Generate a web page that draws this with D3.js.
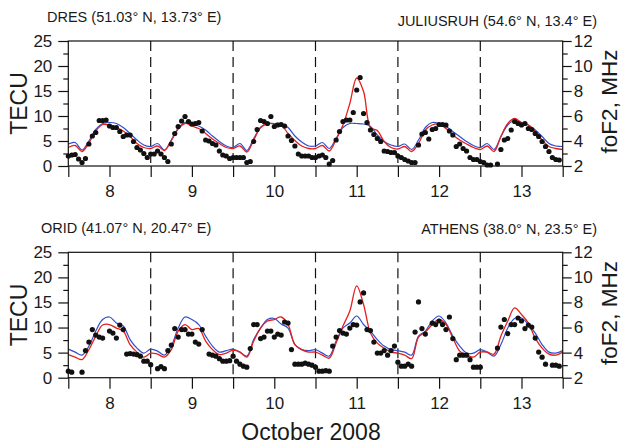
<!DOCTYPE html>
<html>
<head>
<meta charset="utf-8">
<script src="https://cdn.jsdelivr.net/npm/d3@7/dist/d3.min.js"></script>
<style>
  body { margin: 0; background: #fff; }
  svg text { font-family: 'Liberation Sans', Arial, Helvetica, sans-serif; fill: #1a1a1a; }
</style>
</head>
<body>
<div id="chart"></div>
<script>
'use strict';

// model curves are sampled every 2 h, observations every 1 h, both from day 7.5
var startDay = 7.5;
var modelStep = 2 / 24;
var obsStep = 1 / 24;

var dayTicks = [8, 9, 10, 11, 12, 13];
var dayBounds = [8.5, 9.5, 10.5, 11.5, 12.5];
var tecTicks = [0, 5, 10, 15, 20, 25];
var tecMinor = [2.5, 7.5, 12.5, 17.5, 22.5];
var foF2Ticks = [2, 4, 6, 8, 10, 12];
var foF2Minor = [3, 5, 7, 9, 11];

// DRES / JULIUSRUH, TECU
var dresBlue = [
  4.4, 4.7, 3.2, 5.0, 7.3, 8.5, 8.7, 8.5, 7.7, 6.5, 5.2, 4.2,
  3.9, 4.5, 3.2, 5.2, 7.5, 8.7, 8.4, 8.0, 7.2, 6.0, 4.9, 4.0,
  3.7, 4.5, 3.1, 5.5, 7.7, 8.5, 8.5, 8.5, 7.7, 6.0, 4.8, 4.0,
  4.0, 4.7, 3.5, 5.5, 7.7, 8.5, 8.5, 8.4, 7.9, 6.2, 4.9, 4.2,
  3.9, 4.4, 3.3, 5.2, 7.7, 8.7, 8.5, 7.9, 6.9, 5.9, 4.9, 4.1,
  3.7, 4.5, 3.3, 5.9, 8.2, 9.1, 8.7, 8.2, 7.2, 5.9, 4.5, 4.0,
  3.9
];
var dresRed = [
  3.7, 4.1, 2.9, 4.6, 7.0, 8.3, 8.2, 7.7, 7.0, 5.9, 4.5, 3.7,
  3.5, 4.0, 3.1, 5.1, 7.4, 8.5, 8.0, 7.5, 6.5, 5.4, 4.5, 3.7,
  3.5, 4.0, 2.8, 5.2, 7.7, 8.5, 8.4, 8.2, 6.5, 5.1, 4.0, 3.5,
  3.5, 4.1, 3.0, 5.3, 8.2, 12.5, 17.6, 14.9, 7.7, 7.1, 4.9, 3.7,
  3.4, 3.9, 2.9, 4.5, 7.2, 8.2, 8.4, 7.5, 6.2, 5.2, 4.4, 3.7,
  3.3, 4.0, 2.9, 5.9, 8.5, 9.5, 8.7, 8.2, 6.9, 5.2, 3.9, 3.5,
  3.3
];
// JULIUSRUH foF2, MHz
var juliusruhFoF2 = [
  2.80, 2.88, 2.92, 2.56, 2.28, 2.60, 3.76, 4.40, 4.68, 5.64, 5.64, 5.68,
  5.20, 5.08, 5.08, 4.76, 4.36, 4.48, 4.48, 3.96, 3.48, 3.28, 3.00, 2.68,
  2.96, 2.96, 3.20, 2.96, 2.68, 2.36, 3.76, 4.60, 5.16, 5.60, 5.96, 5.56,
  5.36, 5.40, 5.48, 4.80, 4.08, 4.00, 3.80, 3.68, 3.20, 2.88, 2.80, 2.60,
  2.68, 2.68, 2.68, 2.68, 2.28, 2.36, 3.96, 4.92, 5.64, 5.56, 5.40, 5.96,
  5.16, 5.28, 5.32, 5.20, 4.40, 4.04, 3.60, 2.96, 2.80, 2.80, 2.80, 2.68,
  2.68, 2.80, 2.88, 2.68, 2.16, 2.44, 4.08, 4.76, 5.56, 5.68, 5.68, 6.28,
  8.08, 9.08, 6.20, 5.48, 4.88, 4.52, 4.20, 3.96, 3.20, 3.16, 3.08, 3.08,
  2.80, 2.68, 2.52, 2.40, 2.28, 2.28, 3.68, 4.56, 4.68, 4.16, 4.92, 5.00,
  5.32, 5.32, 5.28, 4.80, 4.48, 3.56, 3.76, 3.40, 3.20, 2.68, 2.52, 2.52,
  2.36, 2.28, 2.08, 2.08, null, 2.16, 3.32, 4.08, 4.20, 4.88, 5.56, 5.40,
  5.28, 5.40, 5.00, 4.92, 4.60, 4.36, 3.96, 3.56, 3.16, 2.68, 2.52, 2.48
];

// ORID / ATHENS, TECU
var oridBlue = [
  5.7, 5.1, 4.5, 6.3, 9.3, 11.6, 12.1, 10.9, 10.3, 7.6, 5.9, 4.9,
  5.7, 5.3, 4.5, 6.3, 9.9, 12.1, 11.6, 10.6, 8.3, 6.3, 5.1, 5.4,
  5.7, 5.1, 4.3, 7.6, 9.9, 11.6, 11.8, 10.7, 9.9, 6.6, 5.6, 5.4,
  5.6, 4.9, 4.3, 7.3, 9.9, 10.9, 12.3, 10.6, 9.3, 7.6, 6.3, 5.6,
  5.4, 5.1, 4.5, 8.3, 9.3, 11.3, 12.3, 10.9, 8.3, 6.3, 4.9, 4.9,
  5.6, 5.1, 4.3, 6.6, 9.9, 11.8, 11.9, 10.6, 8.9, 6.6, 5.1, 4.9,
  5.4
];
var oridRed = [
  4.6, 4.1, 3.6, 5.6, 8.3, 10.5, 10.6, 9.9, 9.3, 6.6, 5.1, 4.1,
  4.9, 4.7, 4.1, 5.6, 9.3, 10.6, 9.6, 9.8, 7.3, 5.6, 4.6, 4.9,
  5.5, 5.1, 4.1, 7.3, 9.9, 11.3, 11.6, 12.1, 10.6, 6.6, 5.6, 5.1,
  5.1, 4.5, 3.9, 6.9, 10.3, 13.3, 18.3, 14.6, 8.9, 6.9, 5.9, 5.1,
  4.9, 4.5, 3.8, 8.1, 9.1, 10.6, 11.6, 10.6, 7.9, 5.3, 4.5, 4.1,
  5.1, 5.1, 4.7, 8.3, 11.3, 13.9, 12.6, 10.9, 7.9, 5.9, 4.7, 4.5,
  5.1
];
// ATHENS foF2, MHz
var athensFoF2 = [
  2.52, 2.44, null, null, 2.44, 4.16, 4.84, 5.84, 5.40, 5.24, 5.16, null,
  5.72, 5.56, 5.16, 6.20, 5.84, 3.88, 3.92, 3.88, 3.84, 3.72, 3.32, 3.32,
  3.04, null, 2.72, 2.88, 2.72, 4.16, 4.60, 5.92, 5.24, 5.84, 5.84, 5.48,
  5.48, 4.84, 4.68, 5.84, null, 3.88, 3.80, 3.72, 3.52, 3.32, 3.32, 3.36,
  3.72, 3.32, 3.08, 2.92, 2.84, 4.32, 6.24, 6.24, 5.12, 5.24, 5.72, 5.72,
  5.24, 5.48, 5.40, 6.44, 6.36, 4.24, 3.08, 3.08, 3.08, 3.16, 3.08, 3.00,
  2.84, 2.52, 2.52, 2.56, 2.52, 4.52, 5.24, 5.76, 5.56, 5.48, 5.96, 6.24,
  6.20, 8.04, 8.76, 5.84, 5.76, 4.84, 3.96, 3.96, 4.16, 3.80, 4.16, 4.52,
  3.24, 2.92, 2.92, 3.08, 2.92, 5.64, 8.04, 5.92, 5.48, null, 6.36, 6.24,
  6.52, 6.24, 5.84, 6.84, 5.12, 3.44, 3.80, 3.80, 3.80, 3.44, 2.84, 2.84,
  2.84, null, null, null, null, 4.36, 6.04, 6.64, 5.52, 6.24, 6.24, 6.76,
  6.52, 5.92, 6.20, 6.04, 5.16, 4.04, 3.64, 3.08, null, 3.00, 3.00, 2.92
];

var panels = [
  { left: 'DRES (51.03\u00b0 N, 13.73\u00b0 E)', right: 'JULIUSRUH (54.6\u00b0 N, 13.4\u00b0 E)',
    top: 41, bottom: 166, leftY: 22, rightY: 26,
    blue: dresBlue, red: dresRed, obs: juliusruhFoF2 },
  { left: 'ORID (41.07\u00b0 N, 20.47\u00b0 E)', right: 'ATHENS (38.0\u00b0 N, 23.5\u00b0 E)',
    top: 252.3, bottom: 377.7, leftY: 233, rightY: 234,
    blue: oridBlue, red: oridRed, obs: athensFoF2 }
];

var width = 623, height = 444;
var x0 = 68.3, x1 = 562.7;

var svg = d3.select('#chart').append('svg')
  .attr('width', width)
  .attr('height', height);

var x = d3.scaleLinear().domain([7.5, 13.5]).range([x0, x1]);

var toPoints = function (values, step) {
  return values.map(function (v, i) { return { t: startDay + i * step, v: v }; });
};

panels.forEach(function (p, pi) {
  var yTec = d3.scaleLinear().domain([0, 25]).range([p.bottom, p.top]);
  var yF = d3.scaleLinear().domain([2, 12]).range([p.bottom, p.top]);
  var g = svg.append('g').attr('class', 'panel');

  // day boundaries
  g.selectAll('line.bound')
    .data(dayBounds)
    .enter()
    .append('line')
    .attr('class', 'bound')
    .attr('x1', function (d) { return x(d); })
    .attr('x2', function (d) { return x(d); })
    .attr('y1', p.top)
    .attr('y2', p.bottom)
    .attr('stroke', '#111')
    .attr('stroke-width', 1.2)
    .attr('stroke-dasharray', '10,6');

  var line = function (ys) {
    return d3.line()
      .x(function (d) { return x(d.t); })
      .y(function (d) { return ys(d.v); })
      .curve(d3.curveCatmullRom.alpha(0.5));
  };

  g.append('path')
    .datum(toPoints(p.blue, modelStep))
    .attr('d', line(yTec))
    .attr('fill', 'none')
    .attr('stroke', '#2f4fcf')
    .attr('stroke-width', 1.2);

  g.append('path')
    .datum(toPoints(p.red, modelStep))
    .attr('d', line(yTec))
    .attr('fill', 'none')
    .attr('stroke', '#e4201c')
    .attr('stroke-width', 1.3);

  g.selectAll('circle')
    .data(toPoints(p.obs, obsStep).filter(function (d) { return d.v !== null; }))
    .enter()
    .append('circle')
    .attr('cx', function (d) { return x(d.t); })
    .attr('cy', function (d) { return yF(d.v); })
    .attr('r', 2.6)
    .attr('fill', '#111');

  // frame
  g.append('rect')
    .attr('x', x0)
    .attr('y', p.top)
    .attr('width', x1 - x0)
    .attr('height', p.bottom - p.top)
    .attr('fill', 'none')
    .attr('stroke', '#111')
    .attr('stroke-width', 1.2);

  // axes
  var styleAxis = function (sel) {
    sel.select('.domain').remove();
    sel.selectAll('.tick line').attr('stroke', '#111').attr('stroke-width', 1.2);
    sel.selectAll('.tick text').attr('font-size', 17);
  };

  g.append('g')
    .attr('transform', 'translate(' + x0 + ',0)')
    .call(d3.axisLeft(yTec).tickValues(tecTicks).tickSize(10).tickPadding(6))
    .call(styleAxis);
  g.append('g')
    .attr('transform', 'translate(' + x0 + ',0)')
    .call(d3.axisLeft(yTec).tickValues(tecMinor).tickSize(5).tickFormat(''))
    .call(styleAxis);

  g.append('g')
    .attr('transform', 'translate(' + x1 + ',0)')
    .call(d3.axisRight(yF).tickValues(foF2Ticks).tickSize(9).tickPadding(2))
    .call(styleAxis);
  g.append('g')
    .attr('transform', 'translate(' + x1 + ',0)')
    .call(d3.axisRight(yF).tickValues(foF2Minor).tickSize(5).tickFormat(''))
    .call(styleAxis);

  g.append('g')
    .attr('transform', 'translate(0,' + p.bottom + ')')
    .call(d3.axisBottom(x)
      .tickValues(dayTicks.concat(dayBounds, [7.5, 13.5]))
      .tickSize(11)
      .tickPadding(8)
      .tickFormat(function (d) { return dayTicks.indexOf(d) >= 0 ? d : ''; }))
    .call(styleAxis);

  // titles
  g.append('text')
    .attr('x', pi === 0 ? 47 : 41)
    .attr('y', p.leftY)
    .attr('font-size', 14.5)
    .text(p.left);
  g.append('text')
    .attr('x', 597)
    .attr('y', p.rightY)
    .attr('text-anchor', 'end')
    .attr('font-size', 14.5)
    .text(p.right);

  var mid = (p.top + p.bottom) / 2;
  g.append('text')
    .attr('transform', 'translate(27,' + mid + ') rotate(-90)')
    .attr('text-anchor', 'middle')
    .attr('font-size', 23)
    .text('TECU');
  g.append('text')
    .attr('transform', 'translate(617,' + (mid - 2) + ') rotate(-90)')
    .attr('text-anchor', 'middle')
    .attr('font-size', 22.5)
    .text('foF2, MHz');
});

svg.append('text')
  .attr('x', 311)
  .attr('y', 440)
  .attr('text-anchor', 'middle')
  .attr('font-size', 23)
  .text('October 2008');
</script>
</body>
</html>
